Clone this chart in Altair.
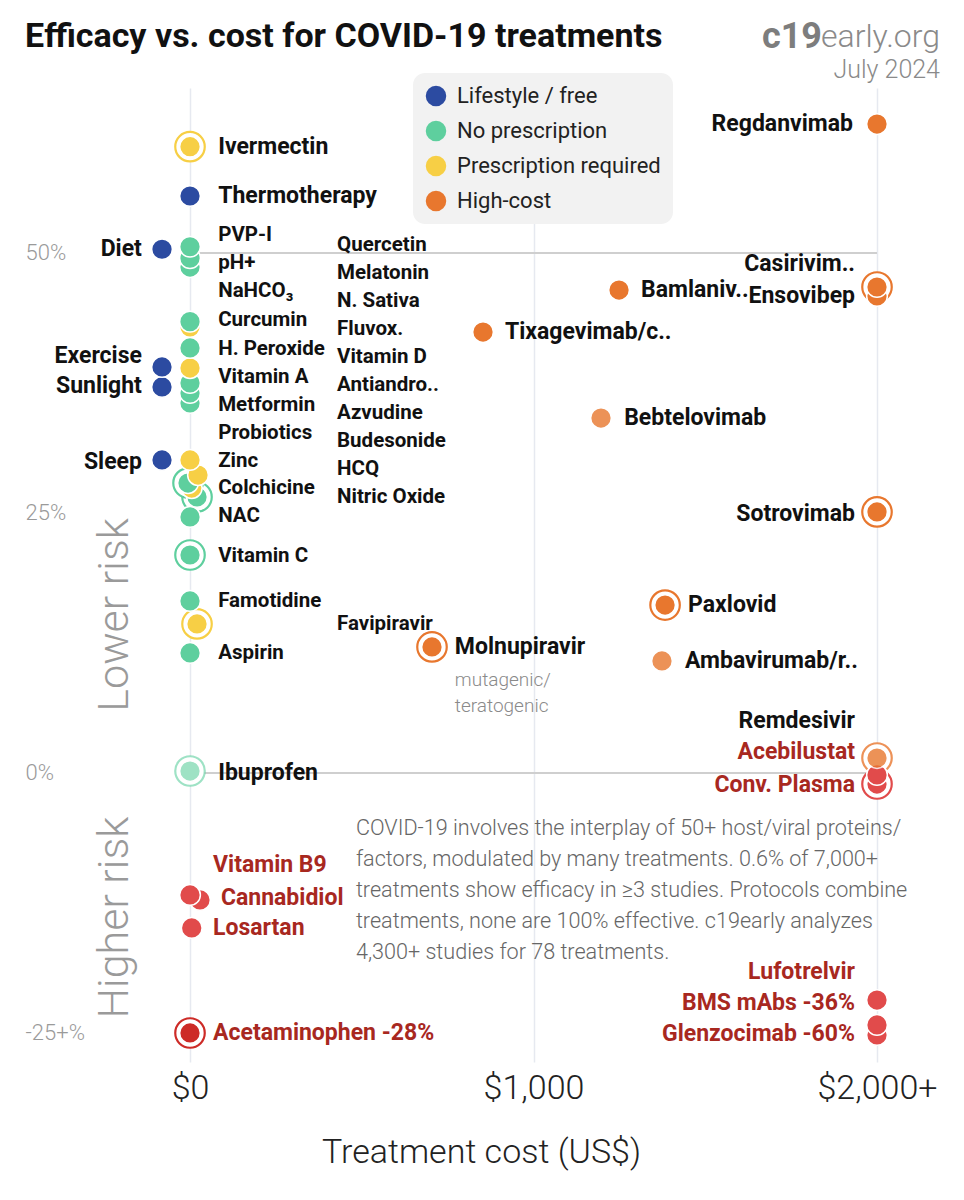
import altair as alt
import pandas as pd

# ---------------- data ----------------
categories = ["Lifestyle / free", "No prescription", "Prescription required", "High-cost", "Harm", "Harm (strong)"]
cat_colors = ["#2c4ba1", "#5ecf9e", "#f7cf45", "#e8772e", "#e14b4b", "#cd2b27"]

pt_name = ["Diet", "Exercise", "Sunlight", "Sleep", "Thermotherapy",
           "PVP-I", "pH+", "NaHCO3", "Curcumin", "H. Peroxide", "Quercetin", "Melatonin", "N. Sativa",
           "Vitamin D", "Zinc", "NAC", "Vitamin C", "Famotidine", "Aspirin", "Ibuprofen",
           "Ivermectin", "Fluvox.", "Metformin", "Colchicine", "HCQ", "Budesonide", "Favipiravir",
           "Molnupiravir", "Tixagevimab/c..", "Bamlaniv..", "Bebtelovimab", "Paxlovid", "Ambavirumab/r..",
           "Regdanvimab", "Casirivim..", "Ensovibep", "Sotrovimab", "Remdesivir",
           "Acebilustat", "Conv. Plasma", "Lufotrelvir", "BMS mAbs", "Glenzocimab",
           "Vitamin B9", "Cannabidiol", "Losartan", "Acetaminophen"]
pt_cost = [-81.5, -81.5, -81.5, -81.5, 0,
           0, 0, 0, 0, 0, 0, 0, 0,
           -5.8, 20.4, 0, 0, 0, 0, 0,
           0, 0, 0, 0, 23.3, 5, 20.4,
           704.5, 853, 1249, 1196.5, 1383, 1374,
           2000, 2000, 2000, 2000, 2000,
           2000, 2000, 2000, 2000, 2000,
           0, 29, 5, 0]
pt_eff = [50.36, 39.04, 37.12, 30.1, 55.48,
          50.6, 49.5, 48.65, 43.4, 40.87, 37.5, 36.54, 35.58,
          27.88, 26.54, 24.62, 20.96, 16.54, 11.54, 0.19,
          60.22, 42.9, 38.94, 30.1, 28.65, 27.4, 14.33,
          12.12, 42.4, 46.44, 34.13, 16.15, 10.77,
          62.4, 46.73, 45.87, 25.1, 1.44,
          -0.19, -1.06, -21.83, -24.23, -25.19,
          -11.73, -12.21, -14.9, -25.0]
pt_cat = [0, 0, 0, 0, 0,
          1, 1, 1, 1, 1, 1, 1, 1,
          1, 1, 1, 1, 1, 1, 1,
          2, 2, 2, 2, 2, 2, 2,
          3, 3, 3, 3, 3, 3,
          3, 3, 3, 3, 3,
          4, 4, 4, 4, 4,
          4, 4, 4, 5]
pt_ring = [0, 0, 0, 0, 0,
           0, 0, 0, 0, 0, 0, 0, 0,
           1, 1, 0, 1, 0, 0, 1,
           1, 0, 0, 0, 0, 0, 1,
           1, 0, 0, 0, 1, 0,
           0, 1, 0, 1, 1,
           0, 1, 0, 0, 0,
           0, 0, 0, 1]
pt_opacity = [1, 1, 1, 1, 1,
              1, 1, 1, 1, 1, 1, 1, 1,
              1, 1, 1, 1, 1, 1, 0.6,
              1, 1, 1, 1, 1, 1, 1,
              1, 1, 1, 0.8, 1, 0.8,
              1, 1, 1, 1, 0.8,
              1, 1, 1, 1, 1,
              1, 1, 1, 1]

# label groups (text, anchor cost, anchor efficacy)
main_left = ["Ivermectin", "Thermotherapy", "Ibuprofen", "Molnupiravir", "Tixagevimab/c..",
             "Bamlaniv..", "Bebtelovimab", "Paxlovid", "Ambavirumab/r.."]
main_left_cost = [82, 82, 82, 771, 917, 1313, 1264, 1450, 1441]
main_left_eff = [60.2, 55.5, 0.0, 12.1, 42.4, 46.4, 34.1, 16.2, 10.8]

list_left = ["PVP-I", "pH+", "NaHCO\u2083", "Curcumin", "H. Peroxide", "Vitamin A", "Metformin",
             "Probiotics", "Zinc", "Colchicine", "NAC", "Vitamin C", "Famotidine", "Aspirin",
             "Quercetin", "Melatonin", "N. Sativa", "Fluvox.", "Vitamin D", "Antiandro..",
             "Azvudine", "Budesonide", "HCQ", "Nitric Oxide", "Favipiravir"]
list_left_cost = [82] * 14 + [428] * 11
list_left_eff = [51.7, 49.0, 46.35, 43.55, 40.8, 38.1, 35.4, 32.7, 30.0, 27.4, 24.7, 20.9, 16.5, 11.5,
                 50.8, 48.1, 45.4, 42.7, 40.0, 37.3, 34.6, 31.9, 29.2, 26.5, 14.3]

main_right = ["Diet", "Exercise", "Sunlight", "Sleep", "Regdanvimab", "Casirivim..", "Ensovibep",
              "Sotrovimab", "Remdesivir"]
main_right_cost = [-140, -140, -140, -140, 1930, 1936, 1936, 1936, 1936]
main_right_eff = [50.4, 40.1, 37.2, 29.9, 62.4, 48.9, 45.9, 24.9, 5.0]

red_right = ["Acebilustat", "Conv. Plasma", "Lufotrelvir", "BMS mAbs -36%", "Glenzocimab -60%"]
red_right_cost = [1936, 1936, 1936, 1936, 1936]
red_right_eff = [2.0, -1.15, -19.1, -22.1, -25.1]

red_left = ["Vitamin B9", "Cannabidiol", "Losartan", "Acetaminophen -28%"]
red_left_cost = [67, 90, 67, 67]
red_left_eff = [-8.85, -12.0, -14.9, -25.0]

notes = ["mutagenic/", "teratogenic"]
notes_cost = [771, 771]
notes_eff = [8.9, 6.4]

hline_eff = [50, 0]
side_text = ["Lower risk", "Higher risk"]
side_eff = [15.2, -13.9]

description = ("COVID-19 involves the interplay of 50+ host/viral proteins/\n"
               "factors, modulated by many treatments. 0.6% of 7,000+\n"
               "treatments show efficacy in \u22653 studies. Protocols combine\n"
               "treatments, none are 100% effective. c19early analyzes\n"
               "4,300+ studies for 78 treatments.")
desc_cost = [483]
desc_eff = [-4.3]

x_ticks = [0, 1000, 2000]
y_ticks = [50, 25, 0, -25]

title_text = "Efficacy vs. cost for COVID-19 treatments"
brand_bold = "c19"
brand_light = "early.org"
date_text = "July 2024"

# ---------------- chart ----------------
FONT = "Roboto"
W, H = 820, 974
xscale = alt.Scale(domain=[-203.8, 2183.4], nice=False, zero=False)
yscale = alt.Scale(domain=[-27.79, 65.865], nice=False, zero=False)

xaxis = alt.Axis(values=x_ticks, grid=True, gridColor="#e6e9f0", gridWidth=1.5, domain=False,
                 ticks=False, tickSize=0, labelFontSize=34, labelFont=FONT, labelFontWeight=300,
                 labelColor="#222", labelPadding=9, labelFlush=False, labelOverlap=False,
                 labelExpr="datum.value == 2000 ? '$2,000+' : '$' + format(datum.value, ',')",
                 title="Treatment cost (US$)", titleFontSize=34, titleFont=FONT, titleFontWeight=300,
                 titleColor="#222", titleX=361, titleY=90, titleBaseline="middle", titleAlign="center")
yaxis = alt.Axis(values=y_ticks, grid=False, domain=False, ticks=False, tickSize=0,
                 labelAlign="left", labelPadding=95, labelFontSize=22, labelFont=FONT,
                 labelFontWeight=300, labelColor="#9a9a9a", labelOverlap=False, labelFlush=False,
                 labelExpr="datum.value == -25 ? '-25+%' : datum.value + '%'", title=None)


def X(f="cost"):
    return alt.X(f"{f}:Q", scale=xscale, axis=xaxis)


def Y(f="eff"):
    return alt.Y(f"{f}:Q", scale=yscale, axis=yaxis)


cat_to_color = dict(zip(categories, cat_colors))
pts = pd.DataFrame({"name": pt_name, "cost": pt_cost, "eff": pt_eff,
                    "cat": [categories[i] for i in pt_cat], "ring": pt_ring, "op": pt_opacity})
pts["hex"] = pts["cat"].map(cat_to_color)
pts = pts.sort_values("eff", kind="stable").reset_index(drop=True)

hl = pd.DataFrame({"eff": hline_eff, "cost": [0, 0], "cost2": [2000, 2000]})
rules = alt.Chart(hl).mark_rule(color="#cfcfcf", strokeWidth=2).encode(
    x=X(), x2="cost2:Q", y=Y())

rings = alt.Chart(pts).transform_filter("datum.ring == 1").mark_circle(
    size=870, fill="white", fillOpacity=1, strokeWidth=2.2).encode(
    x=X(), y=Y(),
    stroke=alt.Stroke("hex:N", scale=None),
    strokeOpacity=alt.StrokeOpacity("op:Q", scale=None))

fills = alt.Chart(pts).mark_circle(size=430, stroke="white", strokeWidth=1.5).encode(
    x=X(), y=Y(),
    color=alt.Color("cat:N", scale=alt.Scale(domain=categories, range=cat_colors),
                    legend=alt.Legend(values=categories[:4], orient="none", legendX=293, legendY=-15,
                                      title=None, fillColor="#f2f2f2", cornerRadius=12, padding=12,
                                      labelFontSize=22, labelFont=FONT, labelColor="#222",
                                      symbolSize=420, symbolType="circle", symbolStrokeWidth=0,
                                      rowPadding=13, labelOffset=10, labelLimit=400,
                                      symbolOpacity=1)),
    opacity=alt.Opacity("op:Q", scale=None))


def label_layer(texts, costs, effs, align, size, color, weight="bold"):
    df = pd.DataFrame({"t": texts, "cost": costs, "eff": effs})
    return alt.Chart(df).mark_text(align=align, baseline="middle", font=FONT, fontSize=size,
                                   fontWeight=weight, color=color).encode(
        x=X(), y=Y(), text="t:N")


BLACK = "#111111"
RED = "#a8281f"
layers = [
    rules, rings, fills,
    label_layer(main_left, main_left_cost, main_left_eff, "left", 23, BLACK),
    label_layer(list_left, list_left_cost, list_left_eff, "left", 20.5, BLACK),
    label_layer(main_right, main_right_cost, main_right_eff, "right", 23, BLACK),
    label_layer(red_right, red_right_cost, red_right_eff, "right", 23, RED),
    label_layer(red_left, red_left_cost, red_left_eff, "left", 23, RED),
    label_layer(notes, notes_cost, notes_eff, "left", 19, "#8a8a8a", weight=300),
]

desc = alt.Chart(pd.DataFrame({"t": [description], "cost": desc_cost, "eff": desc_eff})).mark_text(
    align="left", baseline="top", font=FONT, fontSize=21.6, fontWeight=300, color="#666666",
    lineBreak="\n", lineHeight=31).encode(x=X(), y=Y(), text="t:N")

side = alt.Chart(pd.DataFrame({"t": side_text, "eff": side_eff})).mark_text(
    align="center", baseline="middle", angle=270, font=FONT, fontSize=43, fontWeight=300,
    color="#9a9a9a").encode(x=alt.value(-5), y=Y(), text="t:N")

title = alt.Chart(pd.DataFrame({"t": [title_text]})).mark_text(
    align="left", baseline="middle", font=FONT, fontSize=34, fontWeight="bold", color="#111").encode(
    x=alt.value(-95), y=alt.value(-51), text="t:N")
brand1 = alt.Chart(pd.DataFrame({"t": [brand_bold]})).mark_text(
    align="right", baseline="middle", font=FONT, fontSize=36, fontWeight="bold", color="#7d7d7d").encode(
    x=alt.value(702), y=alt.value(-51), text="t:N")
brand2 = alt.Chart(pd.DataFrame({"t": [brand_light]})).mark_text(
    align="right", baseline="middle", font=FONT, fontSize=32, fontWeight=300, color="#8a8a8a").encode(
    x=alt.value(820), y=alt.value(-51), text="t:N")
date = alt.Chart(pd.DataFrame({"t": [date_text]})).mark_text(
    align="right", baseline="middle", font=FONT, fontSize=25, fontWeight=300, color="#8a8a8a").encode(
    x=alt.value(820), y=alt.value(-18), text="t:N")

chart = alt.layer(*layers, desc, side, title, brand1, brand2, date).properties(
    width=W, height=H, autosize="none",
    padding={"left": 112, "top": 80, "right": 16, "bottom": 130},
    background="white",
).configure_view(stroke=None)

chart.save("out.html", embed_options={"renderer": "svg", "actions": False})
